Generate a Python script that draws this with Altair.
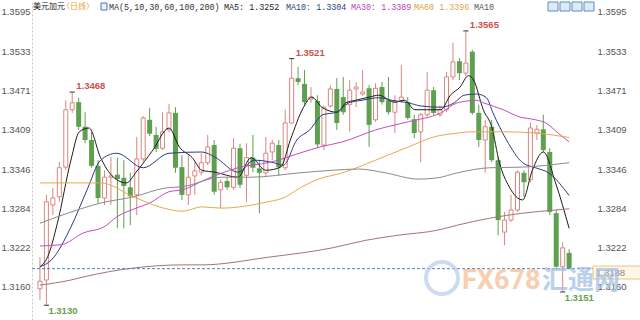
import altair as alt
import pandas as pd

# ---------------- data ----------------
opens = [1.3156, 1.3170, 1.3289, 1.3302, 1.3349, 1.3440, 1.3452, 1.3413, 1.3392, 1.3351,
         1.3300, 1.3333, 1.3337, 1.3332, 1.3317, 1.3305, 1.3362, 1.3424, 1.3400, 1.3379,
         1.3408, 1.3435, 1.3349, 1.3305, 1.3335, 1.3341, 1.3356, 1.3384, 1.3313, 1.3327,
         1.3317, 1.3379, 1.3336, 1.3364, 1.3347, 1.3340, 1.3373, 1.3384, 1.3348, 1.3419,
         1.3490, 1.3481, 1.3457, 1.3454, 1.3384, 1.3446, 1.3473, 1.3460, 1.3448, 1.3473,
         1.3465, 1.3474, 1.3424, 1.3476, 1.3455, 1.3436, 1.3455, 1.3452, 1.3425, 1.3405,
         1.3432, 1.3471, 1.3432, 1.3440, 1.3492, 1.3517, 1.3498, 1.3532, 1.3435, 1.3392,
         1.3413, 1.3360, 1.3246, 1.3265, 1.3281, 1.3340, 1.3329, 1.3403, 1.3409, 1.3373,
         1.3276, 1.3191, 1.3213]
highs = [1.3206, 1.3305, 1.3316, 1.3357, 1.3455, 1.3468, 1.3459, 1.3436, 1.3405, 1.3360,
         1.3344, 1.3365, 1.3364, 1.3360, 1.3340, 1.3397, 1.3430, 1.3443, 1.3413, 1.3436,
         1.3449, 1.3444, 1.3368, 1.3368, 1.3356, 1.3371, 1.3400, 1.3392, 1.3329, 1.3333,
         1.3395, 1.3386, 1.3387, 1.3400, 1.3360, 1.3397, 1.3392, 1.3392, 1.3440, 1.3521,
         1.3508, 1.3503, 1.3476, 1.3463, 1.3447, 1.3478, 1.3490, 1.3492, 1.3487, 1.3484,
         1.3503, 1.3479, 1.3482, 1.3484, 1.3492, 1.3463, 1.3511, 1.3460, 1.3432, 1.3435,
         1.3500, 1.3476, 1.3447, 1.3500, 1.3546, 1.3522, 1.3565, 1.3535, 1.3448, 1.3424,
         1.3424, 1.3365, 1.3278, 1.3305, 1.3344, 1.3344, 1.3420, 1.3416, 1.3432, 1.3379,
         1.3281, 1.3230, 1.3219]
lows = [1.3138, 1.3130, 1.3273, 1.3294, 1.3344, 1.3435, 1.3408, 1.3387, 1.3348, 1.3292,
        1.3289, 1.3289, 1.3252, 1.3252, 1.3257, 1.3273, 1.3357, 1.3398, 1.3373, 1.3376,
        1.3405, 1.3340, 1.3297, 1.3289, 1.3305, 1.3336, 1.3352, 1.3305, 1.3284, 1.3313,
        1.3313, 1.3316, 1.3294, 1.3341, 1.3276, 1.3335, 1.3360, 1.3336, 1.3344, 1.3418,
        1.3479, 1.3448, 1.3451, 1.3379, 1.3376, 1.3443, 1.3408, 1.3432, 1.3405, 1.3444,
        1.3462, 1.3381, 1.3421, 1.3448, 1.3432, 1.3403, 1.3451, 1.3424, 1.3395, 1.3357,
        1.3429, 1.3432, 1.3429, 1.3436, 1.3487, 1.3487, 1.3493, 1.3432, 1.3381, 1.3340,
        1.3357, 1.3241, 1.3225, 1.3262, 1.3278, 1.3302, 1.3325, 1.3392, 1.3373, 1.3273,
        1.3186, 1.3151, 1.3187]
closes = [1.3168, 1.3294, 1.3300, 1.3348, 1.3440, 1.3451, 1.3413, 1.3392, 1.3351, 1.3300,
          1.3333, 1.3335, 1.3330, 1.3319, 1.3303, 1.3362, 1.3427, 1.3402, 1.3378, 1.3405,
          1.3435, 1.3348, 1.3305, 1.3333, 1.3343, 1.3356, 1.3381, 1.3310, 1.3325, 1.3317,
          1.3379, 1.3321, 1.3364, 1.3348, 1.3340, 1.3371, 1.3387, 1.3349, 1.3419, 1.3490,
          1.3484, 1.3452, 1.3460, 1.3385, 1.3444, 1.3473, 1.3419, 1.3436, 1.3471, 1.3476,
          1.3468, 1.3416, 1.3474, 1.3452, 1.3436, 1.3452, 1.3460, 1.3427, 1.3403, 1.3432,
          1.3471, 1.3435, 1.3440, 1.3492, 1.3516, 1.3498, 1.3514, 1.3435, 1.3392, 1.3413,
          1.3360, 1.3265, 1.3265, 1.3281, 1.3341, 1.3325, 1.3411, 1.3409, 1.3376, 1.3278,
          1.3191, 1.3221, 1.3188]

ma5_x = [0, 1.2, 2.7, 4.8, 6.1, 7.6, 9.4, 11.4, 13.4, 14.9, 17.5, 20.0, 21.6, 23.6, 25.1, 27.1,
         30.7, 32.7, 35.0, 37.3, 38.8, 40.8, 42.1, 43.8, 46.1, 47.4, 48.9, 51.0, 52.5, 55.0,
         56.5, 58.1, 60.1, 62.1, 63.6, 65.1, 66.4, 67.2, 68.7, 70.0, 71.2, 72.7, 74.8, 76.3,
         78.0, 79.9, 82.0]
ma5_p = [1.3191, 1.3207, 1.3260, 1.3360, 1.3405, 1.3411, 1.3364, 1.3333, 1.3324, 1.3341,
         1.3376, 1.3411, 1.3381, 1.3364, 1.3344, 1.3341, 1.3333, 1.3364, 1.3344, 1.3349,
         1.3392, 1.3443, 1.3460, 1.3443, 1.3436, 1.3451, 1.3455, 1.3460, 1.3463, 1.3452,
         1.3455, 1.3440, 1.3440, 1.3440, 1.3463, 1.3476, 1.3494, 1.3487, 1.3440, 1.3413,
         1.3356, 1.3318, 1.3297, 1.3344, 1.3373, 1.3324, 1.3252]
ma10_x = [0, 1.8, 4.8, 7.3, 9.4, 11.9, 16.0, 20.0, 25.1, 27.1, 30.7, 33.2, 36.2, 37.7, 39.8,
          41.8, 43.8, 45.9, 47.9, 49.9, 52.5, 54.5, 57.1, 59.0, 62.1, 64.2, 65.7, 67.7, 69.2,
          70.2, 72.3, 74.8, 76.8, 78.8, 82.0]
ma10_p = [1.3191, 1.3202, 1.3254, 1.3313, 1.3360, 1.3371, 1.3348, 1.3371, 1.3373, 1.3365,
          1.3341, 1.3360, 1.3356, 1.3352, 1.3392, 1.3408, 1.3432, 1.3436, 1.3451, 1.3455,
          1.3459, 1.3455, 1.3451, 1.3446, 1.3444, 1.3451, 1.3463, 1.3465, 1.3459, 1.3435,
          1.3392, 1.3356, 1.3348, 1.3340, 1.3304]
ma30_x = [0, 3.3, 6.8, 9.9, 11.9, 14.9, 17.0, 20.0, 22.1, 25.6, 30.7, 35.8, 40.8, 43.4, 46.9,
          52.0, 57.1, 62.1, 64.7, 67.7, 68.7, 71.8, 74.2, 76.8, 78.4, 80.3, 82.0]
ma30_p = [1.3224, 1.3226, 1.3245, 1.3254, 1.3270, 1.3284, 1.3292, 1.3310, 1.3313, 1.3329,
          1.3348, 1.3357, 1.3373, 1.3381, 1.3389, 1.3408, 1.3421, 1.3435, 1.3451, 1.3455,
          1.3451, 1.3440, 1.3429, 1.3424, 1.3419, 1.3403, 1.3389]
ma60_x = [0, 4.8, 9.4, 14.5, 18.5, 22.1, 25.1, 28.1, 35.3, 37.7, 40.3, 42.9, 46.9, 52.0, 57.1,
          61.1, 64.7, 66.6, 71.8, 76.8, 79.4, 82.0]
ma60_p = [1.3324, 1.3324, 1.3324, 1.3302, 1.3286, 1.3279, 1.3286, 1.3284, 1.3294, 1.3300,
          1.3316, 1.3329, 1.3340, 1.3360, 1.3381, 1.3397, 1.3403, 1.3405, 1.3405, 1.3403,
          1.3400, 1.3396]
ma100_x = [0, 4.3, 9.4, 14.5, 19.5, 22.1, 28.1, 32.7, 40.3, 45.3, 49.4, 53.5, 58.6, 61.6, 64.7,
           69.7, 74.8, 82.0]
ma100_p = [1.3260, 1.3276, 1.3292, 1.3302, 1.3316, 1.3318, 1.3333, 1.3333, 1.3340, 1.3344,
           1.3346, 1.3340, 1.3330, 1.3332, 1.3340, 1.3348, 1.3349, 1.3356]
ma200_x = [0, 4.8, 6.8, 14.5, 22.1, 25.1, 35.3, 45.3, 50.5, 55.5, 61.6, 64.7, 69.7, 74.8, 79.9, 82.0]
ma200_p = [1.3162, 1.3170, 1.3175, 1.3189, 1.3194, 1.3194, 1.3206, 1.3221, 1.3233, 1.3241,
           1.3249, 1.3257, 1.3268, 1.3276, 1.3281, 1.3283]

tick_values = [1.3160, 1.3222, 1.3284, 1.3346, 1.3409, 1.3471, 1.3533, 1.3595]
high_marks = [5, 39, 66]
low_marks = [1, 81]

ma_names = ["MA5", "MA10", "MA30", "MA60", "MA100", "MA200"]
ma_colors = ["#1c1c1c", "#2b3b82", "#c64ac6", "#e9a84c", "#8a8a8a", "#a87274"]

# ---------------- build tables ----------------
n = len(opens)
cdf = pd.DataFrame({"i": list(range(n)), "open": opens, "high": highs,
                    "low": lows, "close": closes})
cdf["dir"] = ["up" if c >= o else "down" for o, c in zip(opens, closes)]

ma_series = list(zip(ma_names, ma_colors,
                     [ma5_x, ma10_x, ma30_x, ma60_x, ma100_x, ma200_x],
                     [ma5_p, ma10_p, ma30_p, ma60_p, ma100_p, ma200_p]))

hdf = pd.DataFrame({"i": high_marks, "v": [highs[k] for k in high_marks]})
ldf = pd.DataFrame({"i": low_marks, "v": [lows[k] for k in low_marks]})
for d in (hdf, ldf):
    d["i0"] = d["i"] - 0.4
    d["i1"] = d["i"] + 0.4
    d["label"] = [f"{v:.4f}" for v in d["v"]]

PINK = "#d9877f"
GREEN = "#5f9f50"
W, H = 550, 320

xs = alt.Scale(domain=[-0.456, 83.22], nice=False, zero=False)
ys = alt.Scale(domain=[1.31066, 1.36140], nice=False, zero=False)

left_axis = alt.Axis(orient="left", values=tick_values, format=".4f", labelColor="#555555",
                     labelFont="Liberation Sans", labelFontSize=9.5, ticks=False,
                     domain=True, domainColor="#c8c8c8", domainDash=[2, 2],
                     labelPadding=2, grid=False, title=None)
right_axis = alt.Axis(orient="right", values=tick_values, format=".4f", labelColor="#555555",
                      labelFont="Liberation Sans", labelFontSize=9.5, ticks=False,
                      domain=False, labelPadding=15, grid=False, title=None)

X = alt.X("i:Q", scale=xs, axis=None)

up_df = cdf[cdf["dir"] == "up"]
dn_df = cdf[cdf["dir"] == "down"]

up_wicks = alt.Chart(up_df).mark_rule(strokeWidth=1, color=PINK).encode(
    x=X, y=alt.Y("low:Q", scale=ys, axis=left_axis), y2="high:Q")
dn_wicks = alt.Chart(dn_df).mark_rule(strokeWidth=1, color=GREEN).encode(
    x=X, y=alt.Y("low:Q", scale=ys, axis=None), y2="high:Q")

up_bodies = alt.Chart(up_df).mark_bar(
    size=4, fill="white", stroke=PINK, strokeWidth=1).encode(
    x=X, y=alt.Y("open:Q", scale=ys, axis=right_axis), y2="close:Q")
down_bodies = alt.Chart(dn_df).mark_bar(size=5, color=GREEN).encode(
    x=X, y=alt.Y("open:Q", scale=ys, axis=None), y2="close:Q")

ma_layers = []
for name, col, xs_, ps_ in ma_series:
    ma_layers.append(
        alt.Chart(pd.DataFrame({"i": xs_, "p": ps_})).mark_line(
            strokeWidth=1, interpolate="monotone", color=col).encode(
            x=X, y=alt.Y("p:Q", scale=ys, axis=None)))

last_df = pd.DataFrame({"c": [closes[-1]], "label": [f"{closes[-1]:.4f}"]})
last_rule = alt.Chart(last_df).mark_rule(strokeDash=[3, 2], color="#5a7fb5", strokeWidth=1).encode(
    y=alt.Y("c:Q", scale=ys, axis=None), x=alt.value(0), x2=alt.value(561))

hi_ticks = alt.Chart(hdf).mark_rule(color="#333333", strokeWidth=1).encode(
    x=alt.X("i0:Q", scale=xs, axis=None), x2="i1:Q", y=alt.Y("v:Q", scale=ys, axis=None))
lo_ticks = alt.Chart(ldf).mark_rule(color="#333333", strokeWidth=1).encode(
    x=alt.X("i0:Q", scale=xs, axis=None), x2="i1:Q", y=alt.Y("v:Q", scale=ys, axis=None))

hi_text = alt.Chart(hdf).mark_text(align="left", baseline="middle", dx=4, dy=-6,
                                   font="Liberation Sans", fontSize=9.5, fontWeight="bold",
                                   color="#c8534c").encode(
    x=X, y=alt.Y("v:Q", scale=ys, axis=None), text="label:N")
lo_text = alt.Chart(ldf).mark_text(align="left", baseline="middle", dx=2, dy=6,
                                   font="Liberation Sans", fontSize=9.5, fontWeight="bold",
                                   color="#6a9e4c").encode(
    x=X, y=alt.Y("v:Q", scale=ys, axis=None), text="label:N")

# header texts (pixel positions, absolute x minus left padding 32)
header = [
    ("美元加元", 33, "#222222", "Noto Sans CJK SC", 8),
    ("〈日线〉", 62, "#e8a23a", "Noto Sans CJK SC", 8),
    ("MA(5,10,30,60,100,200)", 109, "#333333", "Liberation Mono", 8.4),
    ("MA5: 1.3252", 224, "#222222", "Liberation Mono", 8.4),
    ("MA10: 1.3304", 286, "#2b3b82", "Liberation Mono", 8.4),
    ("MA30: 1.3389", 351, "#c040c0", "Liberation Mono", 8.4),
    ("MA60 1.3396", 414, "#e0a040", "Liberation Mono", 8.4),
    ("MA10", 474, "#555555", "Liberation Mono", 8.4),
]
head_layers = []
for t, px, col, fnt, fs in header:
    head_layers.append(
        alt.Chart(pd.DataFrame({"t": [t]})).mark_text(
            align="left", baseline="middle", color=col, font=fnt, fontSize=fs).encode(
            text="t:N", x=alt.value(px - 32), y=alt.value(7)))

icon = alt.Chart(pd.DataFrame({"a": [0]})).mark_rect(
    fill="#e8f0fa", stroke="#4a78b8", strokeWidth=1).encode(
    x=alt.value(101 - 32), x2=alt.value(107 - 32), y=alt.value(3), y2=alt.value(10))

# toolbar buttons, top right
tool_layers = []
for bx in [548, 560, 572, 584]:
    tool_layers.append(
        alt.Chart(pd.DataFrame({"a": [0]})).mark_rect(
            fill="#dfeaf7", stroke="#5a8cc8", strokeWidth=1).encode(
            x=alt.value(bx - 32), x2=alt.value(bx - 32 + 10), y=alt.value(2), y2=alt.value(11)))

# watermark
globe = alt.Chart(pd.DataFrame({"a": [0]})).mark_point(
    shape="circle", size=1024, filled=False, stroke="#b7cdea", strokeWidth=4, opacity=0.7).encode(
    x=alt.value(442 - 32), y=alt.value(278))
wm1 = alt.Chart(pd.DataFrame({"t": ["FX678"]})).mark_text(
    align="left", baseline="middle", font="Roboto", fontSize=27, fontWeight="bold",
    color="#f6c39c", opacity=0.8).encode(text="t:N", x=alt.value(462 - 32), y=alt.value(281))
wm2 = alt.Chart(pd.DataFrame({"t": ["汇通网"]})).mark_text(
    align="left", baseline="middle", font="Noto Sans CJK SC", fontSize=26, fontWeight="bold",
    color="#a3c2e6", opacity=0.75).encode(text="t:N", x=alt.value(542 - 32), y=alt.value(281))

# last price box on the right
box = alt.Chart(pd.DataFrame({"a": [0]})).mark_rect(
    fill="#fff6e8", stroke="#f0c27a", strokeWidth=1).encode(
    x=alt.value(593 - 32), x2=alt.value(612), y=alt.value(266), y2=alt.value(279))
box_text = alt.Chart(last_df).mark_text(
    align="left", baseline="middle", font="Liberation Sans", fontSize=9.5, color="#888888").encode(
    text="label:N", x=alt.value(596 - 32), y=alt.value(273))

chart = alt.layer(
    up_wicks, dn_wicks, up_bodies, down_bodies, *ma_layers, last_rule, hi_ticks, lo_ticks,
    hi_text, lo_text, icon, *tool_layers, *head_layers, box, box_text, globe, wm1, wm2
).resolve_axis(y="independent").properties(
    width=W, height=H,
    autosize=alt.AutoSizeParams(type="none"),
    padding={"left": 32, "top": 0, "right": 58, "bottom": 0},
    background="white",
).configure_view(stroke=None)

chart.save("out.html", embed_options={"renderer": "svg", "actions": False})
